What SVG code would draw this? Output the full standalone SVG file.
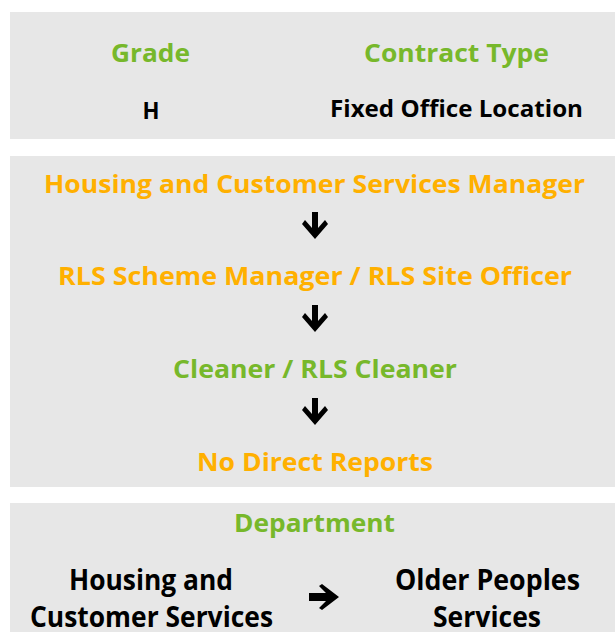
<svg xmlns="http://www.w3.org/2000/svg" width="615" height="632" viewBox="0 0 615 632">
<style>
.panel{fill:#e7e7e7}
text{font-family:"Open Sans",Lato,"Liberation Sans",sans-serif;font-weight:700;text-anchor:middle}
.g{fill:#77b82b;font-size:25px}
.o{fill:#ffb000;font-size:25px}
.k{fill:#000;font-size:23px}
.kb{fill:#000;font-size:29px}
.arr{fill:#000}
</style>
<rect width="615" height="632" fill="#fff"/>
<g id="panel-grade">
<rect class="panel" x="10" y="12" width="605" height="127"/>
<text class="g" x="150.5" y="62" textLength="79" lengthAdjust="spacingAndGlyphs">Grade</text>
<text class="g" x="456.5" y="62" textLength="185" lengthAdjust="spacingAndGlyphs">Contract Type</text>
<text class="k" x="151" y="119" textLength="17" lengthAdjust="spacingAndGlyphs">H</text>
<text class="k" x="456.5" y="117" textLength="253" lengthAdjust="spacingAndGlyphs">Fixed Office Location</text>
</g>
<g id="panel-roles">
<rect class="panel" x="10" y="156" width="605" height="331"/>
<g id="n1"><text class="o" x="314.5" y="193" textLength="541" lengthAdjust="spacingAndGlyphs">Housing and Customer Services Manager</text></g>
<g id="n2"><text class="o" x="315" y="285" textLength="514" lengthAdjust="spacingAndGlyphs">RLS Scheme Manager / RLS Site Officer</text></g>
<g id="n3"><text class="g" x="315" y="378" textLength="284" lengthAdjust="spacingAndGlyphs">Cleaner / RLS Cleaner</text></g>
<g id="n4"><text class="o" x="315" y="471" textLength="236" lengthAdjust="spacingAndGlyphs">No Direct Reports</text></g>
</g>
<g id="panel-dept">
<rect class="panel" x="10" y="503" width="605" height="129"/>
<text class="g" x="314.5" y="532" textLength="161" lengthAdjust="spacingAndGlyphs">Department</text>
<g id="from"><text class="kb" x="151" y="590" textLength="164" lengthAdjust="spacingAndGlyphs">Housing and</text>
<text class="kb" x="151.5" y="627" textLength="243" lengthAdjust="spacingAndGlyphs">Customer Services</text></g>
<g id="to"><text class="kb" x="487.5" y="590" textLength="185" lengthAdjust="spacingAndGlyphs">Older Peoples</text>
<text class="kb" x="487" y="627" textLength="108" lengthAdjust="spacingAndGlyphs">Services</text></g>
</g>
<g id="connectors">
<polygon class="arr" points="312,212 318,212 318,228 325,220 328,224 315,239 302,224 305,220 312,228"/>
<polygon class="arr" transform="translate(0,93)" points="312,212 318,212 318,228 325,220 328,224 315,239 302,224 305,220 312,228"/>
<polygon class="arr" transform="translate(0,186)" points="312,212 318,212 318,228 325,220 328,224 315,239 302,224 305,220 312,228"/>
<polygon class="arr" points="309,593 326,593 319,586 322,584 339,597 322,610 319,608 326,601 309,601"/>
</g>
</svg>
